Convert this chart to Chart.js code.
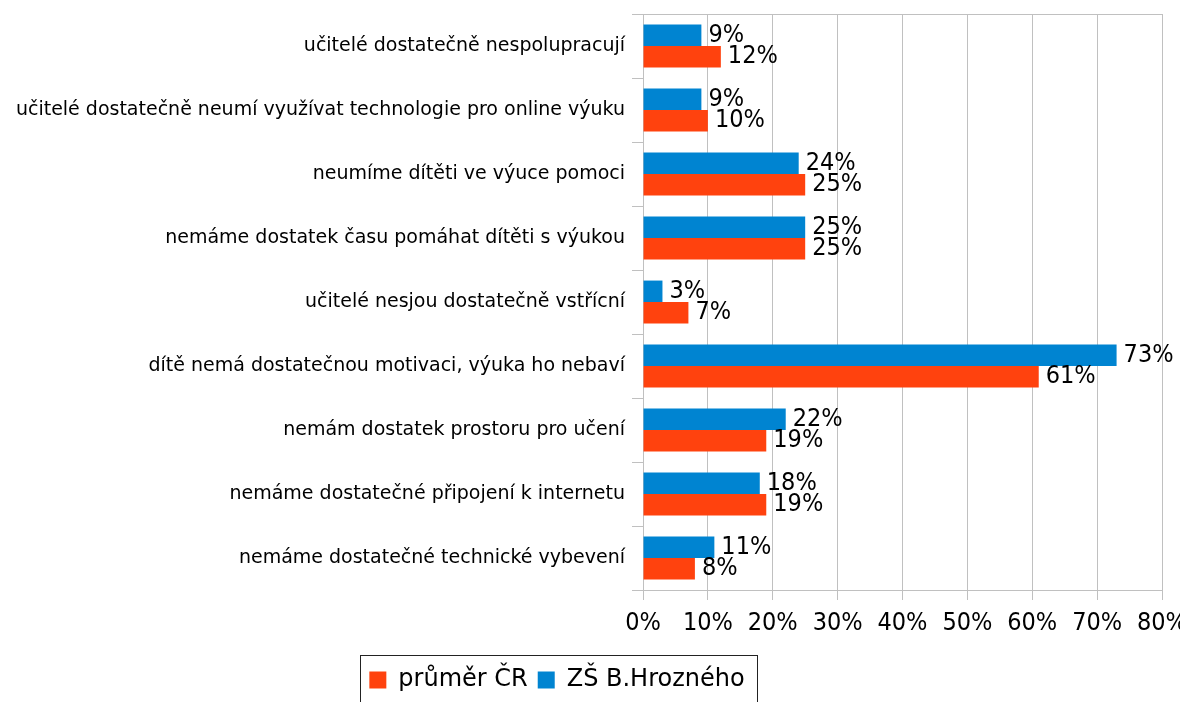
<!DOCTYPE html>
<html lang="cs">
<head>
<meta charset="UTF-8">
<title>Problémy s online výukou</title>
<script src="https://cdn.jsdelivr.net/npm/chart.js"></script>
<style>
  html, body { margin: 0; padding: 0; background: #fff; }
  #wrap { width: 1180px; height: 702px; }
</style>
</head>
<body>
<div id="wrap"><canvas id="myChart"></canvas></div>
<script>
// kategorie odshora dolů
const categories = [
  'učitelé dostatečně nespolupracují',
  'učitelé dostatečně neumí využívat technologie pro online výuku',
  'neumíme dítěti ve výuce pomoci',
  'nemáme dostatek času pomáhat dítěti s výukou',
  'učitelé nesjou dostatečně vstřícní',
  'dítě nemá dostatečnou motivaci, výuka ho nebaví',
  'nemám dostatek prostoru pro učení',
  'nemáme dostatečné připojení k internetu',
  'nemáme dostatečné technické vybevení'
];
const schoolValues = [9, 9, 24, 25, 3, 73, 22, 18, 11];      // ZŠ B.Hrozného
const nationalValues = [12, 10, 25, 25, 7, 61, 19, 19, 8];   // průměr ČR
const tickLabels = ['0%', '10%', '20%', '30%', '40%', '50%', '60%', '70%', '80%'];

const gridColor = '#c0c0c0';
const numFont = { family: '"Liberation Sans Narrow", "DejaVu Sans Condensed", sans-serif', size: 25 };

// popisky hodnot za koncem sloupců
const valueLabels = {
  id: 'valueLabels',
  afterDatasetsDraw(chart) {
    const ctx = chart.ctx;
    ctx.save();
    ctx.font = `${numFont.size}px ${numFont.family}`;
    ctx.fillStyle = '#000';
    ctx.textAlign = 'left';
    ctx.textBaseline = 'middle';
    chart.data.datasets.forEach((ds, di) => {
      chart.getDatasetMeta(di).data.forEach((bar, i) => {
        ctx.fillText(ds.data[i] + '%', bar.x + 7, bar.y);
      });
    });
    ctx.restore();
  }
};

// horní linka grafu + rámeček legendy, legenda trochu doleva
const frame = {
  id: 'frame',
  afterLayout(chart) {
    chart.legend.left -= 24;
    chart.legend.right -= 24;
  },
  afterDraw(chart) {
    const ctx = chart.ctx;
    const a = chart.chartArea;
    ctx.save();
    ctx.strokeStyle = gridColor;
    ctx.lineWidth = 1;
    ctx.beginPath();
    ctx.moveTo(a.left, a.top + 0.5);
    ctx.lineTo(a.right, a.top + 0.5);
    ctx.stroke();

    const hb = chart.legend.legendHitBoxes;
    if (hb && hb.length) {
      const first = hb[0], last = hb[hb.length - 1];
      const l = Math.round(first.left - 9) + 0.5;
      const r = Math.round(last.left + last.width + 12) + 0.5;
      const t = Math.round(first.top - 13) + 0.5;
      ctx.strokeStyle = '#222';
      ctx.strokeRect(l, t, r - l, chart.height + 10 - t);
    }
    ctx.restore();
  }
};

new Chart(document.getElementById('myChart'), {
  type: 'bar',
  data: {
    labels: categories,
    datasets: [
      { label: 'ZŠ B.Hrozného', data: schoolValues, backgroundColor: '#0084d1', borderWidth: 0 },
      { label: 'průměr ČR', data: nationalValues, backgroundColor: '#ff420e', borderWidth: 0 }
    ]
  },
  options: {
    indexAxis: 'y',
    responsive: true,
    maintainAspectRatio: false,
    animation: false,
    datasets: { bar: { categoryPercentage: 0.67, barPercentage: 1.0 } },
    layout: { padding: { top: 14, right: 18, bottom: 0, left: 0 } },
    scales: {
      x: {
        min: 0,
        max: 80,
        ticks: {
          stepSize: 10,
          padding: 8,
          color: '#000',
          font: numFont,
          callback: (v, i) => tickLabels[i]
        },
        grid: { color: gridColor, tickLength: 10 },
        border: { color: gridColor },
        afterFit(s) {
          s.height = 68;
          s.paddingLeft = 0;
          s.paddingRight = 0;
        }
      },
      y: {
        ticks: {
          padding: 7,
          color: '#000',
          font: { family: '"DejaVu Sans", sans-serif', size: 19 }
        },
        grid: { offset: true, drawOnChartArea: false, color: gridColor, tickLength: 11 },
        border: { color: gridColor },
        afterFit(s) {
          s.width = 643;
          s.paddingTop = 0;
          s.paddingBottom = 0;
        }
      }
    },
    plugins: {
      legend: {
        position: 'bottom',
        reverse: true,
        labels: {
          boxWidth: 17,
          boxHeight: 17,
          padding: 10,
          color: '#000',
          font: { family: '"DejaVu Sans", sans-serif', size: 24 }
        }
      },
      tooltip: { enabled: false }
    }
  },
  plugins: [valueLabels, frame]
});
</script>
</body>
</html>
